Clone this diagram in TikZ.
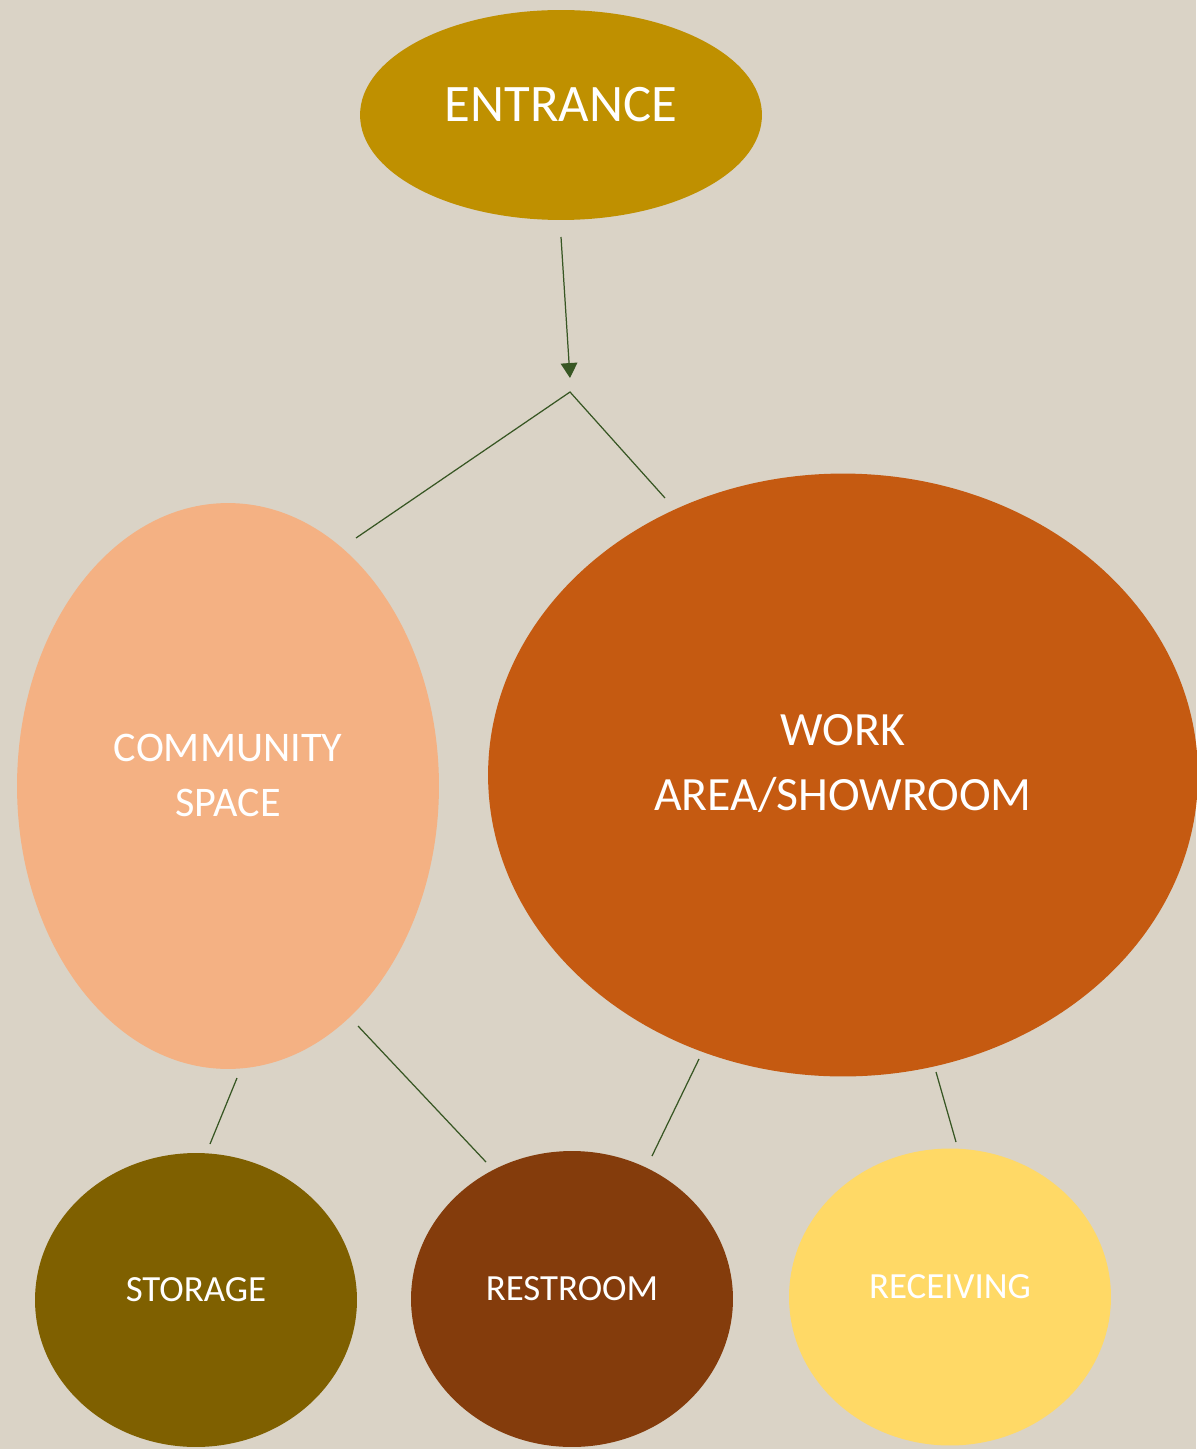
\documentclass[tikz,border=0pt]{standalone}
\usepackage{fontspec}
\setmainfont{Carlito}
\usetikzlibrary{arrows.meta, shapes.geometric}

\definecolor{bgbeige}{HTML}{DAD3C6}
\definecolor{entrgold}{HTML}{BF9000}
\definecolor{commpeach}{HTML}{F4B183}
\definecolor{workrust}{HTML}{C55A11}
\definecolor{storolive}{HTML}{7F6000}
\definecolor{restbrown}{HTML}{843C0C}
\definecolor{recvyellow}{HTML}{FFD966}
\definecolor{linkgreen}{HTML}{375623}

\tikzset{
  room/.style={ellipse, draw=none, inner sep=0pt, outer sep=0pt},
  roomtext/.style={text=white, align=center, yshift=0.21cm},
  link/.style={draw=linkgreen, line width=0.7pt}
}

\begin{document}
\begin{tikzpicture}[x=0.02cm, y=-0.02cm]
  \fill[bgbeige] (0,0) rectangle (1196,1449);
  \useasboundingbox (0,0) rectangle (1196,1449);

  % Raeume
  \node[room, fill=entrgold, minimum width=8.04cm, minimum height=4.2cm,
    label={[roomtext, font=\fontsize{30}{36}\selectfont]center:ENTRANCE}] (entr) at (561,115) {};
  \node[room, fill=commpeach, minimum width=8.44cm, minimum height=11.32cm,
    label={[roomtext, font=\fontsize{24}{31.7}\selectfont]center:COMMUNITY\\SPACE}] (comm) at (228,786) {};
  \node[room, fill=workrust, minimum width=14.2cm, minimum height=12.06cm,
    label={[roomtext, yshift=0.02cm, font=\fontsize{27.2}{37.5}\selectfont]center:WORK\\AREA/SHOWROOM}] (work) at (843,775) {};
  \node[room, fill=storolive, minimum width=6.44cm, minimum height=5.88cm,
    label={[roomtext, font=\fontsize{21}{25}\selectfont]center:STORAGE}] (stor) at (196,1300) {};
  \node[room, fill=restbrown, minimum width=6.44cm, minimum height=5.92cm,
    label={[roomtext, font=\fontsize{21}{25}\selectfont]center:RESTROOM}] (rest) at (572,1299) {};
  \node[room, fill=recvyellow, minimum width=6.44cm, minimum height=5.94cm,
    label={[roomtext, font=\fontsize{21}{25}\selectfont]center:RECEIVING}] (recv) at (950,1297) {};

  % Verbindungen
  \coordinate (entrout) at (561,237);
  \coordinate (split) at (570,392);
  \coordinate (splittip) at (570,378);
  \coordinate (commin) at (356,538);
  \coordinate (workin) at (665,498);
  \coordinate (commout1) at (237,1078);
  \coordinate (commout2) at (358,1026);
  \coordinate (workout1) at (699,1059);
  \coordinate (workout2) at (936,1072);
  \coordinate (storin) at (210,1144);
  \coordinate (restin1) at (486,1162);
  \coordinate (restin2) at (652,1156);
  \coordinate (recvin) at (956,1142);

  \draw[link, -{Triangle[width=9.5pt, length=8.5pt]}] (entrout) -- (splittip);
  \draw[link] (commin) -- (split) -- (workin);
  \draw[link] (commout1) -- (storin);
  \draw[link] (commout2) -- (restin1);
  \draw[link] (workout1) -- (restin2);
  \draw[link] (workout2) -- (recvin);

\end{tikzpicture}
\end{document}
